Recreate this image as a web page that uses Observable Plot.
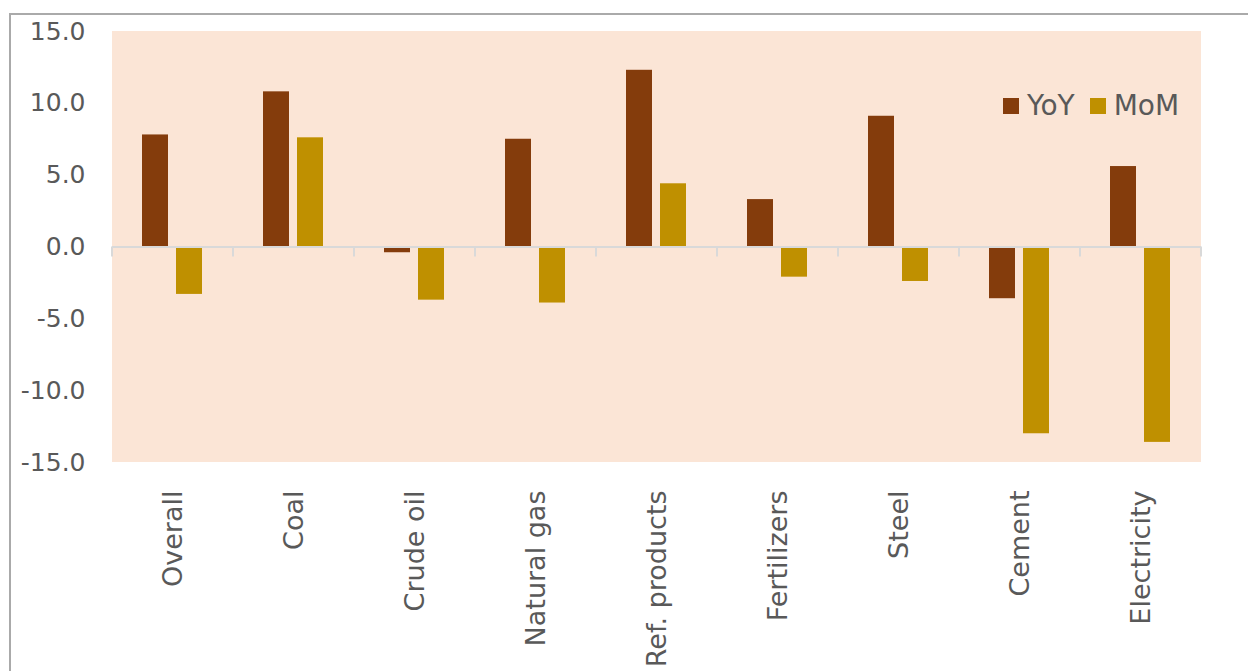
<!DOCTYPE html>
<html><head><meta charset="utf-8">
<script src="https://cdn.jsdelivr.net/npm/d3@7"></script>
<script src="https://cdn.jsdelivr.net/npm/@observablehq/plot@0.6"></script>
<style>
html,body{margin:0;padding:0;background:#fff;overflow:hidden;}
#wrap{position:relative;width:1248px;height:671px;overflow:hidden;font-family:"DejaVu Sans",sans-serif;}
#chart svg{display:block;}
#border{position:absolute;left:9px;top:13px;width:1400px;height:900px;border-left:2px solid #aaaaaa;border-top:2px solid #aaaaaa;pointer-events:none;}
#legend{position:absolute;left:1003px;top:89px;display:flex;align-items:center;font-size:28px;line-height:34px;color:#595959;}
#legend .item{display:flex;align-items:center;margin-right:15px;}
#legend .sw{width:16px;height:16px;display:inline-block;margin-right:8px;}
</style></head>
<body><div id="wrap"><div id="chart"></div><div id="border"></div><div id="legend"></div></div>
<script>
const categories = ["Overall","Coal","Crude oil","Natural gas","Ref. products","Fertilizers","Steel","Cement","Electricity"];
const yoy = [7.8, 10.8, -0.4, 7.5, 12.3, 3.3, 9.1, -3.6, 5.6];
const mom = [-3.3, 7.6, -3.7, -3.9, 4.4, -2.1, -2.4, -13.0, -13.6];
const seriesNames = ["YoY","MoM"];
const seriesColors = ["#843C0C","#BF9000"];
const yTicks = [-15,-10,-5,0,5,10,15];

const rows = [];
categories.forEach((c,i) => {
  rows.push({cat:c, series:"YoY", value:yoy[i]});
  rows.push({cat:c, series:"MoM", value:mom[i]});
});

const plot = Plot.plot({
  width: 1248,
  height: 671,
  marginLeft: 112,
  marginRight: 47,
  marginTop: 31,
  marginBottom: 209,
  style: {fontFamily: "DejaVu Sans, sans-serif", color: "#595959", background: "transparent"},
  fx: {domain: categories, padding: 0, axis: null},
  x: {domain: seriesNames, paddingInner: 0.2286, paddingOuter: 0.843, axis: null},
  y: {domain: [-15, 15], axis: null},
  color: {domain: seriesNames, range: seriesColors},
  marks: [
    Plot.barY(rows, {fx: "cat", x: "series", y: "value", fill: "series"}),
    Plot.ruleY([0], {stroke: "#D9D9D9", strokeWidth: 2}),
    Plot.axisY({ticks: yTicks, tickFormat: d => d.toFixed(1), tickSize: 0, tickPadding: 27, fontSize: 25, label: null}),
    Plot.axisFx({anchor: "bottom", tickRotate: -90, tickSize: 0, tickPadding: 28, fontSize: 27, label: null})
  ]
});

document.getElementById("chart").appendChild(plot);

const fx = plot.scale("fx"), ys = plot.scale("y");
const xr = fx.range, yr = ys.range;
const svg = d3.select(plot);

// single continuous plot-area background
svg.insert("rect", ":first-child")
  .attr("x", Math.min(...xr)).attr("width", Math.abs(xr[1] - xr[0]))
  .attr("y", Math.min(...yr)).attr("height", Math.abs(yr[1] - yr[0]))
  .attr("fill", "#FBE5D6");

// boundary tick marks under the zero line
const y0 = ys.apply(0);
const edges = categories.map(c => fx.apply(c));
edges.push(fx.apply(categories[categories.length-1]) + fx.bandwidth);
svg.append("g").selectAll("line").data(edges).join("line")
  .attr("x1", d => d).attr("x2", d => d)
  .attr("y1", y0).attr("y2", y0 + 10)
  .attr("stroke", "#D9D9D9").attr("stroke-width", 2);

// legend
const lg = d3.select("#legend");
seriesNames.forEach((s,i) => {
  const it = lg.append("div").attr("class","item");
  it.append("span").attr("class","sw").style("background", seriesColors[i]);
  it.append("span").text(s);
});
</script>
</body></html>
